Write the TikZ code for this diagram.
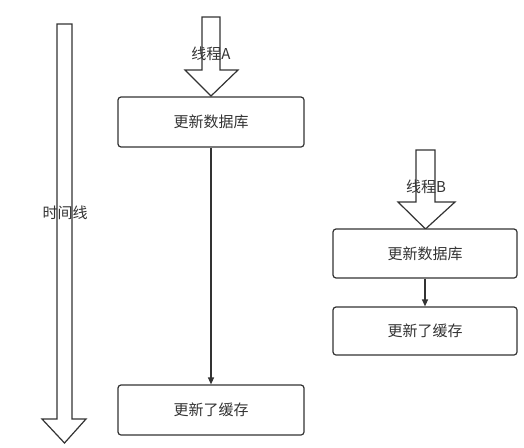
\documentclass[tikz,border=0pt]{standalone}
\usepackage{fontspec}
\newfontfamily\cjk{Noto Sans CJK SC}
\usetikzlibrary{arrows.meta}
\definecolor{stroke}{HTML}{333333}
\definecolor{txt}{HTML}{333333}
\begin{document}
\begin{tikzpicture}[x=1pt,y=-1pt,
  every node/.style={font=\cjk\fontsize{15}{17}\selectfont,text=txt},
  box/.style={draw=stroke,line width=1.2pt,rounded corners=3pt,fill=white,inner sep=0pt},
  fatarrow/.style={draw=stroke,line width=1.2pt,fill=white,line join=miter},
  conn/.style={draw=stroke,line width=1.2pt,-{Triangle[length=7pt,width=6pt]}}]
\useasboundingbox (0,0) rectangle (524,447);
% time line arrow
\draw[fatarrow] (57,24) -- (72,24) -- (72,419) -- (86,419) -- (64.5,443) -- (42,419) -- (57,419) -- cycle;
\node (tl) at (65,213) {时间线};
% thread A arrow
\draw[fatarrow] (202,17) -- (220,17) -- (220,70) -- (238,70) -- (211,96) -- (185,70) -- (202,70) -- cycle;
\node (ta) at (211,54) {线程A};
% thread B arrow
\draw[fatarrow] (416,150) -- (435,150) -- (435,202) -- (455,202) -- (425.5,229) -- (398,202) -- (416,202) -- cycle;
\node (tb) at (426,187) {线程B};
% boxes
\node[box,minimum width=186pt,minimum height=50pt] (a1) at (211,122) {更新数据库};
\node[box,minimum width=186pt,minimum height=50pt] (a2) at (211,410) {更新了缓存};
\node[box,minimum width=184pt,minimum height=49pt] (b1) at (425,253.5) {更新数据库};
\node[box,minimum width=184pt,minimum height=48pt] (b2) at (425,331) {更新了缓存};
% connectors
\draw[conn] (a1) -- (a2);
\draw[conn] (b1) -- (b2);
\end{tikzpicture}
\end{document}
